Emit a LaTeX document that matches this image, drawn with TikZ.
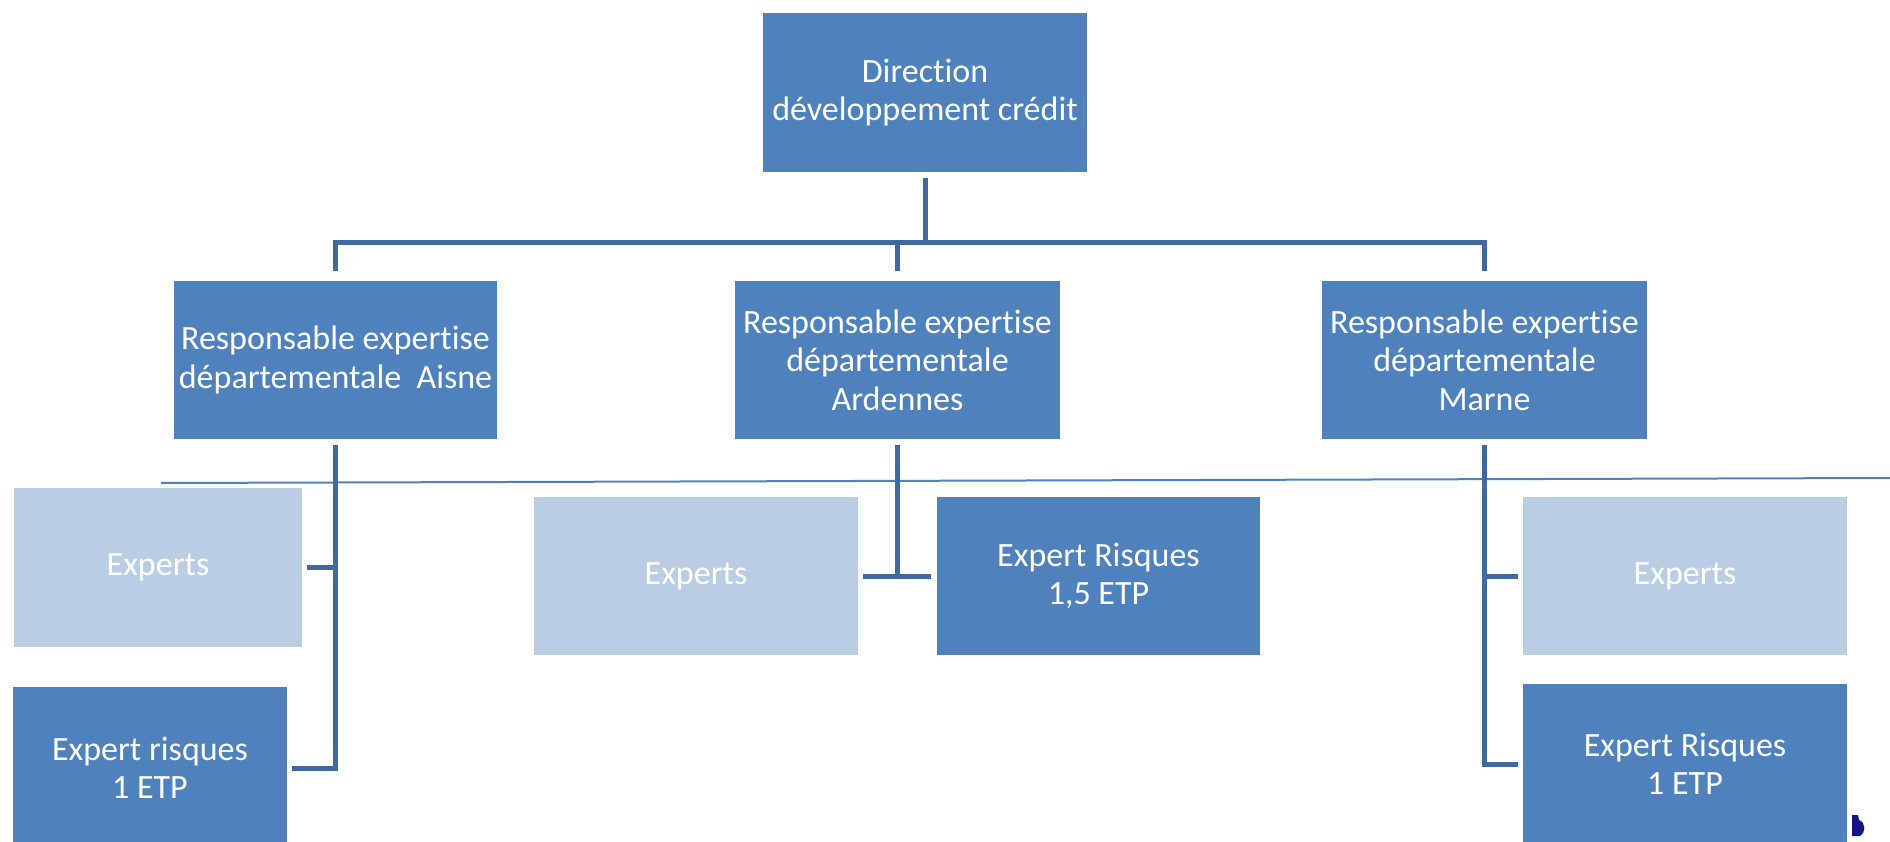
\documentclass[tikz,border=0pt]{standalone}
\usepackage{fontspec}
\setmainfont{Carlito}[Ligatures=NoCommon]
\usetikzlibrary{calc}
\definecolor{boxdark}{RGB}{79,129,189}
\definecolor{boxlight}{RGB}{185,205,229}
\definecolor{linec}{RGB}{65,105,160}
\definecolor{cursorc}{RGB}{20,20,130}
\tikzset{
  dbox/.style={fill=boxdark,draw=none,inner sep=0pt,align=center,text=white,
    font=\fontsize{34}{38.5}\selectfont},
  lbox/.style={fill=boxlight,draw=none,inner sep=0pt,align=center,text=white,
    font=\fontsize{34}{38.5}\selectfont},
  conn/.style={draw=linec,line width=5pt},
  thinl/.style={draw=boxdark,line width=2pt}
}
\begin{document}
\begin{tikzpicture}[x=1pt,y=-1pt]
\useasboundingbox (0,0) rectangle (1890,842);
% boxes
\node[dbox,minimum width=324pt,minimum height=159pt] (top) at (925,92.5) {Direction\\développement crédit};
\node[dbox,minimum width=323pt,minimum height=158pt] (aisne) at (335.5,360) {Responsable expertise\\départementale\ \ Aisne};
\node[dbox,minimum width=325pt,minimum height=158pt] (ard) at (897.5,360) {Responsable expertise\\départementale\\Ardennes};
\node[dbox,minimum width=325pt,minimum height=158pt] (marne) at (1484.5,360) {Responsable expertise\\départementale\\Marne};
\node[lbox,minimum width=288pt,minimum height=159pt] (exA) at (158,567.5) {Experts};
\node[dbox,minimum width=274pt,minimum height=162pt] (riskA) at (150,768) {Expert risques\\1 ETP};
\node[lbox,minimum width=324pt,minimum height=158pt] (exB) at (696,576) {Experts};
\node[dbox,minimum width=323pt,minimum height=158pt] (riskB) at (1098.5,576) {Expert Risques\\1,5 ETP};
\node[lbox,minimum width=324pt,minimum height=158pt] (exC) at (1685,576) {Experts};
\node[dbox,minimum width=324pt,minimum height=160pt] (riskC) at (1685,764) {Expert Risques\\1 ETP};
% thin line
\coordinate (tl1) at (161,483);
\coordinate (tl2) at (1890,478);
\draw[thinl] (tl1) -- (tl2);
% top connectors
\coordinate (barY) at (0,243);
\draw[conn] ($(top.south)+(0,6)$) -- (top.south |- barY);
\draw[conn] ($(aisne.north)+(0,-10)$) -- (aisne.north |- barY) -- (marne.north |- barY) -- ($(marne.north)+(0,-10)$);
\draw[conn] (ard.north |- barY) -- ($(ard.north)+(0,-10)$);
% Aisne branch
\draw[conn] ($(aisne.south)+(0,6)$) -- (aisne.south |- riskA.east) -- ($(riskA.east)+(5,0)$);
\draw[conn] (aisne.south |- exA.east) -- ($(exA.east)+(5,0)$);
% Ardennes branch
\draw[conn] ($(ard.south)+(0,6)$) -- (ard.south |- exB.east);
\draw[conn] ($(exB.east)+(5,0)$) -- ($(riskB.west)+(-6,0)$);
% Marne branch
\draw[conn] ($(marne.south)+(0,6)$) -- (marne.south |- riskC.west) -- ($(riskC.west)+(-5,0)$);
\draw[conn] (marne.south |- exC.west) -- ($(exC.west)+(-5,0)$);
% cursor mark
\fill[cursorc] (1852,815) -- (1852,836) -- (1860,836) .. controls (1866,832) and (1866,823) .. (1859,820) -- (1858,815) -- cycle;
\end{tikzpicture}
\end{document}
